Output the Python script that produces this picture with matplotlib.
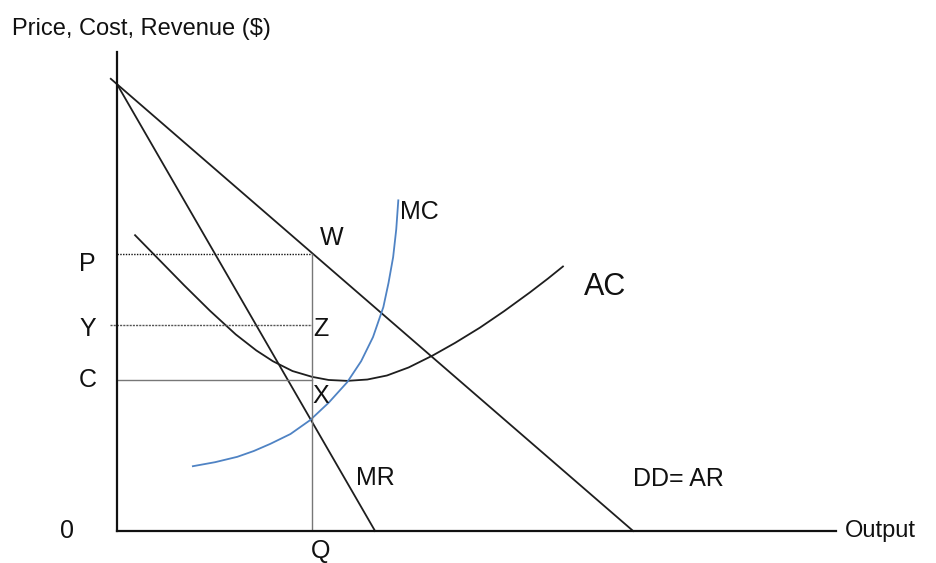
import matplotlib.pyplot as plt

plt.rcParams['font.family'] = ['Liberation Sans', 'DejaVu Sans']

# demand (AR) and marginal revenue, linear: price intercept and quantity intercepts
price_intercept = 10.0
ar_x = [-0.12, 10.0]
mr_x = [0.0, 5.0]

# average cost curve (U shape)
ac_q = [0.35, 0.80, 1.30, 1.80, 2.30, 2.70, 3.02, 3.40, 3.78, 4.10, 4.46, 4.85, 5.23, 5.65, 6.12, 6.55, 7.03, 7.50, 8.00, 8.35, 8.64]
ac_c = [6.62, 6.09, 5.50, 4.93, 4.40, 4.04, 3.80, 3.58, 3.45, 3.38, 3.36, 3.39, 3.48, 3.66, 3.93, 4.21, 4.55, 4.92, 5.34, 5.65, 5.92]

# marginal cost curve
mc_q = [1.47, 1.90, 2.33, 2.65, 2.97, 3.36, 3.74, 4.10, 4.46, 4.73, 4.96, 5.16, 5.26, 5.35, 5.41, 5.45]
mc_c = [1.45, 1.54, 1.66, 1.79, 1.95, 2.17, 2.48, 2.87, 3.33, 3.80, 4.34, 5.01, 5.55, 6.13, 6.75, 7.40]

# equilibrium levels
q_eq = 3.78
p_level = 6.2
y_level = 4.6
c_level = 3.38

fig = plt.figure(figsize=(9.36, 5.63), dpi=100)
ax = fig.add_axes([117 / 936, 32 / 563, 719 / 936, 479 / 563])
ax.set_xlim(0, 13.93)
ax.set_ylim(0, 10.72)
for s in ['top', 'right']:
    ax.spines[s].set_visible(False)
for s in ['left', 'bottom']:
    ax.spines[s].set_linewidth(1.6)
    ax.spines[s].set_color('#111111')
ax.set_xticks([])
ax.set_yticks([])

ink = '#1e1e1e'
ax.plot(ar_x, [price_intercept - x for x in ar_x], color=ink, lw=1.3, clip_on=False)
ax.plot(mr_x, [price_intercept - 2 * x for x in mr_x], color=ink, lw=1.3, clip_on=False)
ax.plot(ac_q, ac_c, color=ink, lw=1.3, solid_joinstyle='round')
ax.plot(mc_q, mc_c, color='#4f83c4', lw=1.3, solid_joinstyle='round')

# guide lines
ax.plot([0, q_eq], [p_level, p_level], color='#111111', lw=1.0, linestyle=(0, (1, 1)))
ax.plot([-0.13, q_eq], [y_level, y_level], color='#555555', lw=1.0, linestyle=(0, (1.5, 0.8)), clip_on=False)
ax.plot([0, q_eq], [c_level, c_level], color='#777777', lw=1.0)
ax.plot([q_eq, q_eq], [0, p_level], color='#777777', lw=1.0)

fs = 18
labels = [('P', -0.58, 5.98), ('Y', -0.56, 4.52), ('C', -0.56, 3.38), ('0', -0.97, 0.0),
          ('Q', 3.95, -0.45), ('Z', 3.95, 4.52), ('X', 3.95, 3.02), ('W', 4.15, 6.55),
          ('MR', 5.0, 1.19), ('MC', 5.85, 7.14), ('DD= AR', 10.87, 1.16)]
for txt, x, y in labels:
    ax.text(x, y, txt, fontsize=fs, ha='center', va='center', color='#111111', clip_on=False)
ax.text(9.46, 5.46, 'AC', fontsize=22, ha='center', va='center', color='#111111', clip_on=False)
ax.text(14.1, 0.0, 'Output', fontsize=17, ha='left', va='center', color='#111111', clip_on=False)

fig.text(12 / 936, 1 - 29 / 563, 'Price, Cost, Revenue ($)', fontsize=17, ha='left', va='center', color='#111111')

fig.savefig('out.png', dpi=100)
